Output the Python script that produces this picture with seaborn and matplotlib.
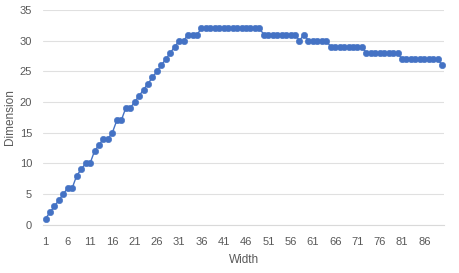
import numpy as np
import pandas as pd
import matplotlib.pyplot as plt
import seaborn as sns

# values, one per width 1..90
width = list(range(1, 91))
dimension = ([1, 2, 3, 4, 5, 6, 6, 8, 9, 10, 10, 12, 13, 14, 14, 15, 17, 17, 19, 19,
              20, 21, 22, 23, 24, 25, 26, 27, 28, 29, 30, 30, 31, 31, 31]
             + [32] * 14 + [31] * 8 + [30, 31] + [30] * 5 + [29] * 8
             + [28] * 8 + [27] * 9 + [26])
x_ticks = list(range(1, 90, 5))
y_ticks = list(range(0, 36, 5))

df = pd.DataFrame({"Width": width, "Dimension": dimension})

sns.set_style("white")
plt.rcParams['font.family'] = ['Liberation Sans', 'DejaVu Sans']

fig = plt.figure(figsize=(4.59, 2.73), dpi=100)
ax = fig.add_axes([0.0943, 0.177, 0.8737, 0.7865])

sns.lineplot(data=df, x="Width", y="Dimension", ax=ax, color="#4472C4",
             linewidth=1.0, marker="o", markersize=4.6, markeredgewidth=0.4,
             markeredgecolor="#4472C4")
# excel does not clip the markers at the plot edge
for ln in ax.lines:
    ln.set_clip_on(False)

ax.set_xlim(0.5, 90.5)
ax.set_ylim(0, 35)
ax.set_xticks(x_ticks)
ax.set_yticks(y_ticks)
ax.yaxis.grid(True, color="#E0E0E0", linewidth=0.8)
ax.set_axisbelow(True)
for s in ["top", "right", "left"]:
    ax.spines[s].set_visible(False)
ax.spines["bottom"].set_color("#D9D9D9")
ax.spines["bottom"].set_linewidth(0.8)
ax.tick_params(axis="both", length=0, labelsize=8, colors="#595959")
ax.tick_params(axis="x", pad=9)
ax.tick_params(axis="y", pad=8)
ax.set_xlabel("Width", fontsize=8.5, color="#595959", labelpad=5)
ax.set_ylabel("Dimension", fontsize=8.5, color="#595959", labelpad=3)

fig.savefig("out.png", dpi=100)
